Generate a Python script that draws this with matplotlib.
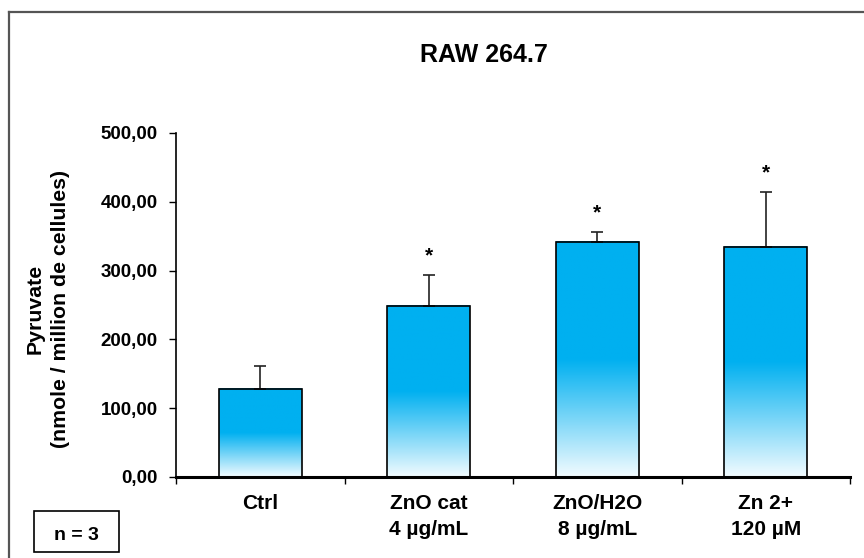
import numpy as np
import matplotlib
matplotlib.use("Agg")
import matplotlib.pyplot as plt
from matplotlib.lines import Line2D
from matplotlib.patches import Rectangle
from matplotlib.ticker import FuncFormatter, FixedLocator

plt.rcParams['font.family'] = ['Liberation Sans', 'DejaVu Sans']
plt.rcParams['font.weight'] = 'bold'

categories = ["Ctrl", "ZnO cat\n4 µg/mL", "ZnO/H2O\n8 µg/mL", "Zn 2+\n120 µM"]
values = [128, 249, 342, 335]
errors = [34, 45, 14, 79]
significant = [False, True, True, True]
title = "RAW 264.7"
ylabel = "Pyruvate\n(nmole / million de cellules)"
yticks = [0, 100, 200, 300, 400, 500]

W, H = 864, 558
fig = plt.figure(figsize=(W / 100, H / 100), dpi=100)
ax = fig.add_axes([176 / W, (H - 477) / H, (850 - 176) / W, (477 - 133) / H])

x = np.arange(len(values))
bw = 0.49
solid = np.array([0, 176, 240]) / 255
pale = np.array([242, 251, 255]) / 255
n = 200
t = np.linspace(0, 1, n)
grad = np.empty((n, 1, 3))
for i, tt in enumerate(t):
    f = min(tt / 0.5, 1.0)
    grad[i, 0] = pale + (solid - pale) * f

for xi, v in zip(x, values):
    ax.imshow(grad, extent=(xi - bw / 2, xi + bw / 2, 0, v), aspect='auto',
              origin='lower', zorder=2, interpolation='bilinear')
ax.bar(x, values, width=bw, facecolor='none', edgecolor='black', linewidth=1.2, zorder=3)
ax.errorbar(x, values, yerr=[np.zeros(len(errors)), errors], fmt='none',
            ecolor='#222222', elinewidth=1.2, capsize=4, capthick=1.2, zorder=2.5)
for xi, v, e, s in zip(x, values, errors, significant):
    if s:
        ax.annotate("*", (xi, v + e), xytext=(0, 7), textcoords='offset points',
                    ha='center', va='bottom', fontsize=15, fontweight='bold')

ax.set_xlim(-0.5, len(values) - 0.5)
ax.set_ylim(0, 500)
ax.set_yticks(yticks)
ax.yaxis.set_major_formatter(FuncFormatter(lambda v, p: f"{v:.2f}".replace('.', ',')))
ax.set_xticks(x)
ax.set_xticklabels(categories, fontsize=15, fontweight='bold', linespacing=1.47)
ax.xaxis.set_minor_locator(FixedLocator(np.arange(-0.5, len(values), 1.0)))
ax.tick_params(axis='x', which='major', length=0, pad=12)
ax.tick_params(axis='x', which='minor', length=5, width=1, direction='out')
ax.tick_params(axis='y', length=5, width=1, direction='out', labelsize=13.5, pad=8)
for lab in ax.get_yticklabels():
    lab.set_fontweight('bold')
for sp in ['top', 'right']:
    ax.spines[sp].set_visible(False)
ax.spines['bottom'].set_linewidth(2.2)
ax.spines['left'].set_linewidth(1.2)

fig.text(48 / W, 1 - 309 / H, ylabel, rotation=90, ha='center', va='center',
         fontsize=15.3, fontweight='bold', linespacing=1.43, multialignment='center')
fig.text(484 / W, 1 - 55 / H, title, ha='center', va='center', fontsize=18,
         fontweight='bold')

# figure frame
fig.add_artist(Line2D([9 / W, 9 / W], [0, 1 - 12 / H], transform=fig.transFigure,
                      color='#555555', lw=1.6))
fig.add_artist(Line2D([9 / W, 1], [1 - 12 / H, 1 - 12 / H], transform=fig.transFigure,
                      color='#555555', lw=1.6))
# n = 3 box
fig.add_artist(Rectangle((34 / W, (H - 552) / H), 85 / W, 41 / H, transform=fig.transFigure,
                         facecolor='white', edgecolor='black', lw=1.2))
fig.text(76 / W, 1 - 535.5 / H, "n = 3", ha='center', va='center', fontsize=14,
         fontweight='bold')

fig.savefig("out.png", dpi=100)
